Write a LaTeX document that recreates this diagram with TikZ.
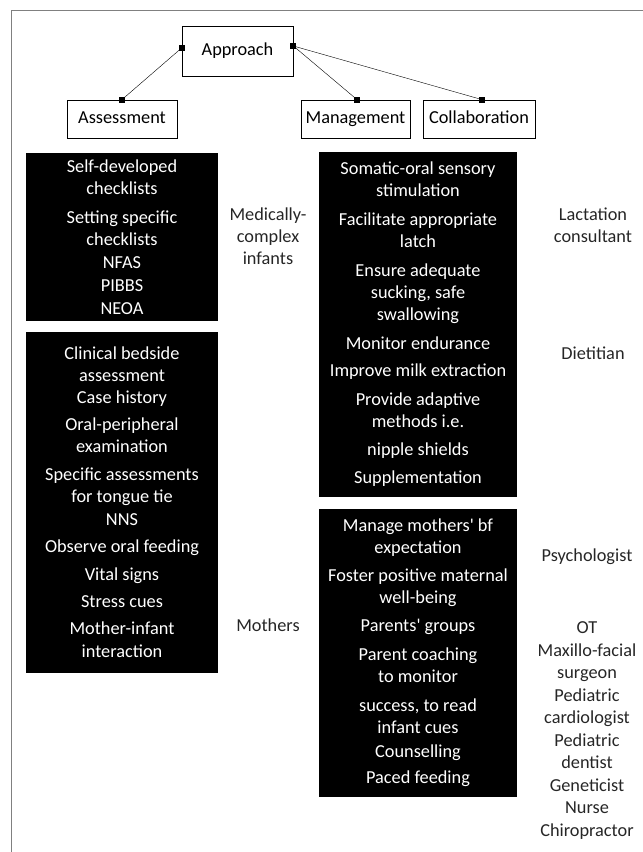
\documentclass[tikz,border=0pt]{standalone}
\usepackage{fontspec}
\setmainfont{Carlito}
\begin{document}
\begin{tikzpicture}[x=1pt,y=-1pt,
        hbox/.style={draw, line width=0.8pt, inner sep=0pt, minimum height=38pt,
                text height=12.5pt, text depth=3.5pt, font=\fontsize{18.3}{22}\selectfont},
        blk/.style={fill=black, text=white, inner sep=0pt, align=center,
                minimum width=195pt, font=\fontsize{18.3}{22}\selectfont},
        lbl/.style={align=center, text=black!85, inner sep=0pt,
                font=\fontsize{18.3}{22}\selectfont},
        sq/.style={fill=black, inner sep=0pt, minimum size=6pt}]
                \useasboundingbox (0,0) rectangle (643,852);
                \draw [gray, line width=1pt] (11.5,852) -- (11.5,10) -- (643,10) ;
                % top row
                \node [hbox, minimum width=111pt, minimum height=50pt] (approach) at (237.5,51) {Approach} ;
                \node [hbox, minimum width=110pt] (assess) at (122,119) {Assessment} ;
                \node [hbox, minimum width=109pt] (manage) at (355.5,119) {Management} ;
                \node [hbox, minimum width=112pt] (collab) at (479,119) {Collaboration} ;
                \coordinate (apL) at ([yshift=3pt]approach.west) ;
                \coordinate (apR) at ([yshift=5pt]approach.east) ;
                \coordinate (asT) at (assess.north) ;
                \coordinate (mgT) at ([xshift=1.5pt]manage.north) ;
                \coordinate (clT) at ([xshift=3pt]collab.north) ;
                \draw (apL) -- (asT) ;
                \draw (apR) -- (mgT) ;
                \draw (apR) -- (clT) ;
                \node [sq] (sqApL) at (apL) {} ;
                \node [sq] (sqApR) at (apR) {} ;
                \node [sq] (sqAs) at (asT) {} ;
                \node [sq] (sqMg) at (mgT) {} ;
                \node [sq] (sqCl) at (clT) {} ;
                % black boxes
                \node [blk, minimum width=192pt, minimum height=168pt] (infAss) at (122,237)
                        {Self-developed\\checklists\\[7pt]Setting specific\\checklists\\[1pt]NFAS\\[1pt]PIBBS\\[1pt]NEOA} ;
                \node [blk, minimum width=192pt, minimum height=341pt] (motAss) at (122,502.5)
                        {Clinical bedside\\assessment\\Case history\\[5pt]Oral-peripheral\\examination\\[6pt]Specific assessments\\for tongue tie\\[1pt]NNS\\[5pt]Observe oral feeding\\[6pt]Vital signs\\[5pt]Stress cues\\[5pt]Mother-infant\\[1pt]interaction} ;
                \node [blk, minimum width=198pt, minimum height=345pt] (infMan) at (418,324.5)
                        {Somatic-oral sensory\\stimulation\\[7pt]Facilitate appropriate\\latch\\[7pt]Ensure adequate\\sucking, safe\\swallowing\\[7pt]Monitor endurance\\[5pt]Improve milk extraction\\[7pt]Provide adaptive\\methods i.e.\\[6pt]nipple shields\\[6pt]Supplementation} ;
                \node [blk, minimum width=198pt, minimum height=288pt] (motMan) at (418,653)
                        {Manage mothers\textquotesingle{} bf\\expectation\\[6pt]Foster positive maternal\\well-being\\[6pt]Parents\textquotesingle{} groups\\[7pt]Parent coaching\\to monitor\\[7pt]success, to read\\infant cues\\[2pt]Counselling\\[4pt]Paced feeding} ;
                % side labels
                \node [lbl] (medi) at (268,236) {Medically-\\complex\\infants} ;
                \node [lbl] (moth) at (268,625) {Mothers} ;
                \node [lbl] (lact) at (593,225) {Lactation\\consultant} ;
                \node [lbl] (diet) at (593,353) {Dietitian} ;
                \node [lbl] (psych) at (587,557) {Psychologist} ;
                \node [lbl, font=\fontsize{18.3}{22.5}\selectfont] (others) at (587,730.5)
                        {OT\\Maxillo-facial\\surgeon\\Pediatric\\cardiologist\\Pediatric\\dentist\\Geneticist\\Nurse\\Chiropractor} ;
            \end{tikzpicture}
\end{document}
